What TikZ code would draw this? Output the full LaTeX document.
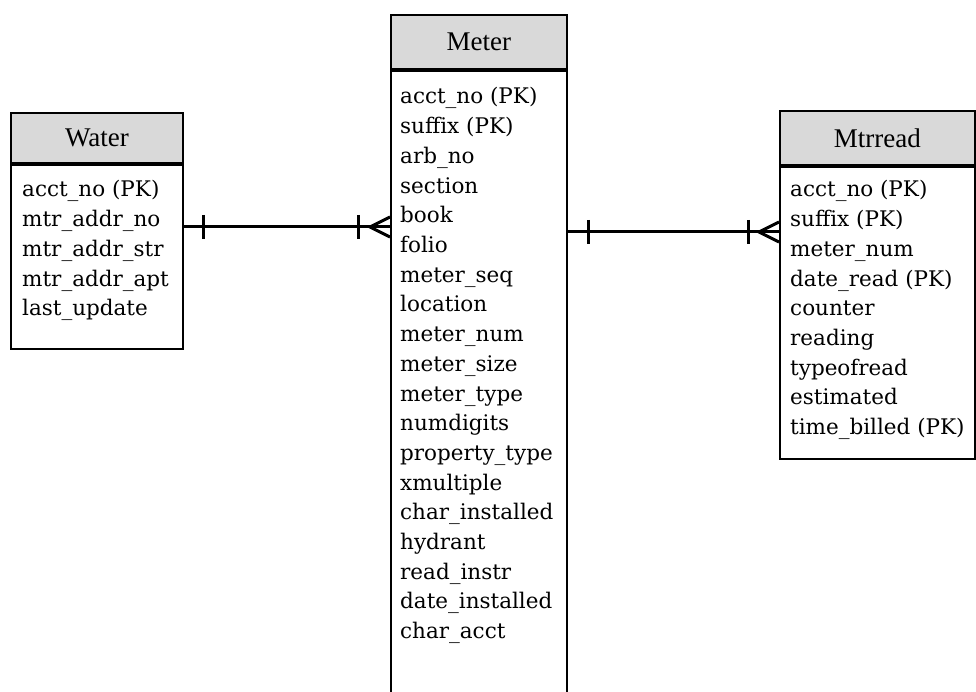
\documentclass[tikz,border=0pt]{standalone}
\usepackage{fontspec}
\setmainfont{DejaVu Serif}
\newfontfamily\headfont{Liberation Serif}
\usetikzlibrary{calc,positioning}

\begin{document}
\begin{tikzpicture}[x=1pt,y=-1pt,
  title/.style={draw,line width=1.8pt,fill=black!15,anchor=north west,inner sep=0pt,font=\headfont\fontsize{27}{27}\selectfont},
  body/.style={draw,line width=1.8pt,anchor=north west,inner sep=0pt},
  field/.style={anchor=base west,inner sep=0pt,font=\fontsize{21.5}{21.5}\selectfont},
  rel/.style={line width=3pt}]
\clip (0,0) rectangle (976,692);
% Water
\node[title,minimum width=172,minimum height=50] (wtitle) at (10,112) {Water};
\node[body,minimum width=172,minimum height=184] (water) at (wtitle.south west) {};
\foreach \t [count=\i] in {acct\_no (PK),mtr\_addr\_no,mtr\_addr\_str,mtr\_addr\_apt,last\_update}
  \node[field] (w\i) at (22,167.3+\i*29.7) {\t};
% Meter
\node[title,minimum width=176,minimum height=54] (mtitle) at (390,14) {Meter};
\node[body,minimum width=176,minimum height=660] (meter) at (mtitle.south west) {};
\foreach \t [count=\i] in {acct\_no (PK),suffix (PK),arb\_no,section,book,folio,meter\_seq,location,meter\_num,meter\_size,meter\_type,numdigits,property\_type,xmultiple,char\_installed,hydrant,read\_instr,date\_installed,char\_acct}
  \node[field] (m\i) at (400,74.3+\i*29.7) {\t};
% Mtrread
\node[title,minimum width=195,minimum height=54] (rtitle) at (779,110) {Mtrread};
\node[body,minimum width=195,minimum height=292] (mtrread) at (rtitle.south west) {};
\foreach \t [count=\i] in {acct\_no (PK),suffix (PK),meter\_num,date\_read (PK),counter,reading,typeofread,estimated,time\_billed (PK)}
  \node[field] (r\i) at (790,167.3+\i*29.7) {\t};
% Water -- Meter
\draw[rel] (water.east |- 0,227) coordinate (wa) -- (meter.west |- 0,227) coordinate (ma);
\draw[rel] ($(wa)+(20,-12)$) -- ++(0,24);
\draw[rel] ($(ma)+(-32,-12)$) -- ++(0,24);
\draw[rel] ($(ma)+(0,-10)$) -- ($(ma)+(-20,0)$) -- ($(ma)+(0,10)$);
% Meter -- Mtrread
\draw[rel] (meter.east |- 0,232) coordinate (mb) -- (mtrread.west |- 0,232) coordinate (rb);
\draw[rel] ($(mb)+(21,-12)$) -- ++(0,24);
\draw[rel] ($(rb)+(-31,-12)$) -- ++(0,24);
\draw[rel] ($(rb)+(0,-10)$) -- ($(rb)+(-20,0)$) -- ($(rb)+(0,10)$);
\end{tikzpicture}
\end{document}
